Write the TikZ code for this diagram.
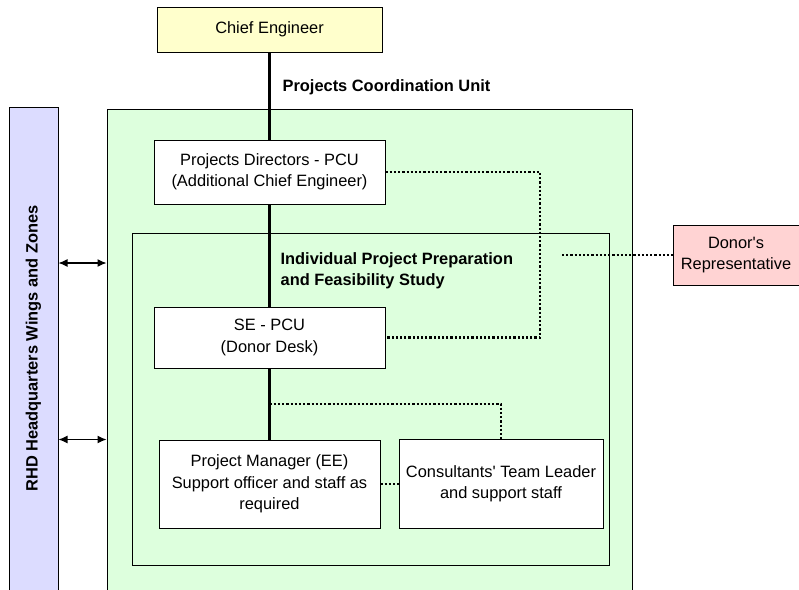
\documentclass[tikz,border=0pt]{standalone}
\usepackage{fontspec}
\setmainfont{Liberation Sans}
\usepackage{tikz}
\usetikzlibrary{arrows.meta,positioning,calc}

\definecolor{ceyellow}{HTML}{FFFFCC}
\definecolor{hqblue}{HTML}{DCDCFF}
\definecolor{pcugreen}{HTML}{DDFFDD}
\definecolor{donorpink}{HTML}{FFD3D3}

\begin{document}
\begin{tikzpicture}[x=1pt,y=-1pt,>={Latex[length=9pt,width=8pt]},semithick,
                    font=\fontsize{16.4}{21.5}\selectfont,
                    box/.style={draw,line width=1pt,fill=white,align=center,inner sep=0pt},
                    frame/.style={draw,line width=1pt,fill=pcugreen,inner sep=0pt},
                    link/.style={line width=2.4pt},
                    dotlink/.style={line width=2.4pt,dash pattern=on 2.2pt off 2pt}]
  \useasboundingbox (0,0) rectangle (799,589);

  % frames
  \node[frame,fill=hqblue,minimum width=49pt,minimum height=483pt] (HQ) at (33.5,348.5) {};
  \node[rotate=90,font=\fontsize{16.4}{21.5}\selectfont\bfseries] (HQtext) at (HQ.center)
       {RHD Headquarters Wings and Zones};
  \node[frame,minimum width=525pt,minimum height=491pt] (PCU) at (369.5,354.5) {};
  \node[frame,minimum width=477pt,minimum height=332pt] (IP) at (370.5,399) {};

  \node[anchor=west,font=\fontsize{16.4}{21.5}\selectfont\bfseries] (PCUlabel) at (279,87)
       {Projects Coordination Unit};
  \node[anchor=west,align=left,font=\fontsize{16.4}{21.5}\selectfont\bfseries] (IPlabel) at (277,271)
       {Individual Project Preparation\\and Feasibility Study};

  % boxes
  \node[box,fill=ceyellow,minimum width=225pt,minimum height=45pt] (CE) at (269.5,29.5) {Chief Engineer};
  \node[box,minimum width=231pt,minimum height=64pt,below=87pt of CE] (PD)
       {Projects Directors - PCU\\(Additional Chief Engineer)};
  \node[box,minimum width=231pt,minimum height=61pt,below=102pt of PD] (SE)
       {SE - PCU\\(Donor Desk)};
  \node[box,minimum width=221pt,minimum height=88pt,below=71pt of SE] (PM)
       {Project Manager (EE)\\Support officer and staff as\\required};
  \node[box,minimum width=204pt,minimum height=89pt,right=18pt of PM] (CT)
       {Consultants\textquotesingle{} Team Leader\\and support staff};
  \node[box,fill=donorpink,minimum width=126pt,minimum height=60pt] (DR) at (736,255)
       {Donor\textquotesingle s\\Representative};

  \coordinate (a1) at (0,263);
  \coordinate (j1) at (540,255);
  \coordinate (d1) at (562,255);
  \coordinate (b1) at ($(SE.south)!0.5!(PM.north)$);

  % connectors
  \draw[link] (CE) -- (PD);
  \draw[link] (PD) -- (SE);
  \draw[link] (SE.south) -- (SE.south |- PM.north);
  \draw[dotlink] (PD.east) -| (j1) |- (SE.east);
  \draw[dotlink] (d1) -- (DR.west);
  \draw[dotlink] (b1) -| (CT.north);
  \draw[dotlink] (PM.east) -- (CT.west);
  \draw[<->,line width=1.2pt] (HQ.east |- a1) -- (PCU.west |- a1);
  \draw[<->,line width=1.2pt] (HQ.east |- PM.north) -- (PCU.west |- PM.north);

\end{tikzpicture}
\end{document}
